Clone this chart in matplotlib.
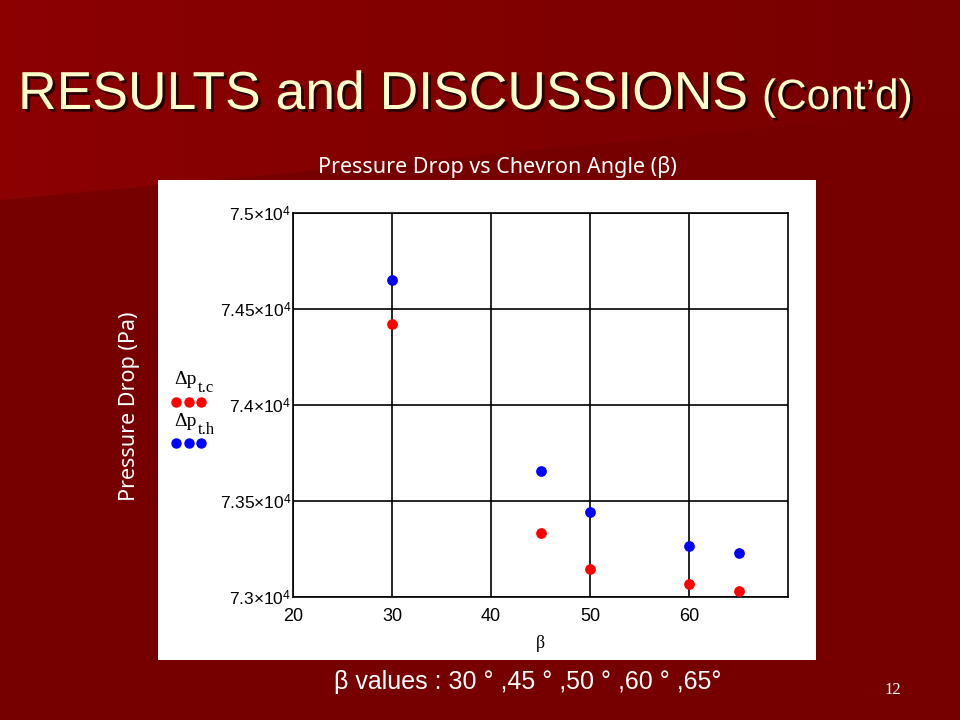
import numpy as np
import matplotlib.pyplot as plt
import matplotlib.patheffects as pe
from matplotlib.lines import Line2D
from matplotlib.patches import Rectangle, Polygon

# chart data
beta = [30, 45, 50, 60, 65]
dp_tc = [74422, 73333, 73146, 73068, 73031]   # red
dp_th = [74651, 73656, 73443, 73266, 73229]   # blue
x_ticks = [20, 30, 40, 50, 60]
y_ticks = [73000, 73500, 74000, 74500, 75000]
y_mant = ['7.3', '7.35', '7.4', '7.45', '7.5']

plt.rcParams['mathtext.fontset'] = 'custom'
plt.rcParams['mathtext.rm'] = 'Liberation Sans'
plt.rcParams['mathtext.it'] = 'Liberation Serif:italic'
sans = 'Liberation Sans'
serif = 'Liberation Serif'
human = 'Noto Sans'

W, H = 960, 720
fig = plt.figure(figsize=(9.6, 7.2), dpi=100)

# slide background
bg = fig.add_axes([0, 0, 1, 1], zorder=-10)
bg.set_xlim(0, W)
bg.set_ylim(H, 0)
bg.axis('off')
grad = np.linspace(0, 1, 256)[None, :]
top_left = np.array([0x8c, 0x00, 0x00]) / 255
top_right = np.array([0x77, 0x00, 0x00]) / 255
img = top_left[None, None, :] * (1 - grad[..., None]) + top_right[None, None, :] * grad[..., None]
bg.imshow(img, extent=[0, W, H, 0], aspect='auto')
bg.add_patch(Polygon([[0, 200], [960, 110], [960, 720], [0, 720]],
                     closed=True, color='#760000', lw=0))
bg.add_patch(Rectangle((158, 180), 658, 480, color='white', lw=0))

# slide texts
shadow = [pe.withSimplePatchShadow(offset=(2, -2), shadow_rgbFace='black', alpha=0.7)]
fig.text(18 / W, 1 - 109 / H, 'RESULTS and DISCUSSIONS', color='#ffffcc', fontsize=38.5,
         family=sans, ha='left', va='baseline', path_effects=shadow)
fig.text(762 / W, 1 - 109 / H, '(Cont’d)', color='#ffffcc', fontsize=30.5,
         family=sans, ha='left', va='baseline', path_effects=shadow)
fig.text(497 / W, 1 - 167 / H, 'Pressure Drop vs Chevron Angle (β)', color='white',
         fontsize=15.5, family=human, ha='center', va='center')
fig.text(129 / W, 1 - 406 / H, 'Pressure Drop (Pa)', color='white', fontsize=15.5,
         family=human, rotation=90, ha='center', va='center')
fig.text(528 / W, 1 - 682 / H, 'β values : 30 ° ,45 ° ,50 ° ,60 ° ,65°', color='white',
         fontsize=18, family=sans, ha='center', va='center')
fig.text(893 / W, 1 - 690 / H, '12', color='white', fontsize=12, family=serif,
         ha='center', va='center')

# plot
ax = fig.add_axes([293 / W, 1 - 597 / H, 495 / W, 384 / H])
ax.scatter(beta, dp_th, s=45, color='#0000ff', zorder=3)
ax.scatter(beta, dp_tc, s=45, color='#ff0000', zorder=3)
ax.set_xlim(20, 70)
ax.set_ylim(73000, 75000)
ax.set_xticks(x_ticks, labels=[str(v) for v in x_ticks], family=sans, fontsize=13)
ax.set_yticks(y_ticks, labels=['%s×10$^{4}$' % m for m in y_mant],
              family=sans, fontsize=12.5)
ax.tick_params(length=0)
ax.tick_params(axis='x', pad=8)
ax.tick_params(axis='y', pad=1)
ax.grid(True, color='black', lw=1.2)
for s in ax.spines.values():
    s.set_linewidth(1.2)
ax.set_xlabel('β', family=serif, fontsize=13, labelpad=7)

# legend drawn as on the slide
fig.text(174 / W, 1 - 379 / H, 'Δp', fontsize=14, family=serif, color='black',
         ha='left', va='center')
fig.text(198 / W, 1 - 388 / H, 't.c', fontsize=12, family=serif, color='black',
         ha='left', va='center')
fig.text(174 / W, 1 - 421 / H, 'Δp', fontsize=14, family=serif, color='black',
         ha='left', va='center')
fig.text(198 / W, 1 - 430 / H, 't.h', fontsize=12, family=serif, color='black',
         ha='left', va='center')
for yy, col in [(402, '#ff0000'), (443, '#0000ff')]:
    fig.add_artist(Line2D([176 / W, 188.5 / W, 201 / W], [1 - yy / H] * 3, ls='none',
                          marker='o', markersize=6.5, color=col, transform=fig.transFigure))

fig.savefig('out.png', dpi=100)
